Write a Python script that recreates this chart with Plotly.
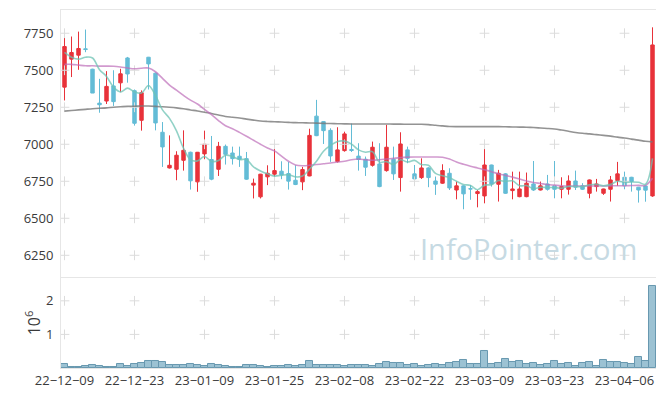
import plotly.graph_objects as go

dates = [
    "22-12-09", "22-12-12", "22-12-13", "22-12-14", "22-12-15", "22-12-16", "22-12-19", "22-12-20", "22-12-21", "22-12-22",
    "22-12-23", "22-12-26", "22-12-27", "22-12-28", "22-12-29", "23-01-02", "23-01-03", "23-01-04", "23-01-05", "23-01-06",
    "23-01-09", "23-01-10", "23-01-11", "23-01-12", "23-01-13", "23-01-16", "23-01-17", "23-01-18", "23-01-19", "23-01-20",
    "23-01-25", "23-01-26", "23-01-27", "23-01-30", "23-01-31", "23-02-01", "23-02-02", "23-02-03", "23-02-06", "23-02-07",
    "23-02-08", "23-02-09", "23-02-10", "23-02-13", "23-02-14", "23-02-15", "23-02-16", "23-02-17", "23-02-20", "23-02-21",
    "23-02-22", "23-02-23", "23-02-24", "23-02-27", "23-02-28", "23-03-02", "23-03-03", "23-03-06", "23-03-07", "23-03-08",
    "23-03-09", "23-03-10", "23-03-13", "23-03-14", "23-03-15", "23-03-16", "23-03-17", "23-03-20", "23-03-21", "23-03-22",
    "23-03-23", "23-03-24", "23-03-27", "23-03-28", "23-03-29", "23-03-30", "23-03-31", "23-04-03", "23-04-04", "23-04-05",
    "23-04-06", "23-04-07", "23-04-10", "23-04-11", "23-04-12",
]

open_ = [7386, 7575, 7602, 7645, 7507, 7278, 7292, 7394, 7415, 7583,
         7362, 7162, 7588, 7480, 7081, 6840, 6831, 6892, 6946, 6746,
         6935, 6897, 6831, 6986, 6941, 6919, 6903, 6724, 6645, 6780,
         6798, 6818, 6802, 6757, 6746, 6786, 7190, 7153, 7094, 6883,
         6957, 6965, 6920, 6899, 6858, 6867, 6822, 6899, 6775, 6962,
         6800, 6775, 6840, 6752, 6737, 6804, 6691, 6719, 6700, 6667,
         6651, 6860, 6730, 6800, 6687, 6646, 6646, 6732, 6691, 6732,
         6719, 6696, 6696, 6752, 6719, 6669, 6714, 6669, 6696, 6755,
         6777, 6777, 6710, 6718, 6651]
high = [7770, 7728, 7761, 7775, 7510, 7442, 7494, 7500, 7510, 7590,
        7370, 7364, 7590, 7485, 7150, 7060, 6953, 7094, 6950, 6948,
        7092, 7056, 7016, 6998, 6984, 6984, 6948, 6768, 6800, 6858,
        7004, 6885, 6881, 6858, 6847, 7105, 7300, 7155, 7108, 7115,
        7085, 7140, 7007, 6917, 7018, 7007, 7131, 6984, 7081, 6984,
        6860, 6905, 6845, 6782, 6865, 6838, 6748, 6722, 6725, 6691,
        6980, 6862, 6827, 6805, 6815, 6815, 6809, 6887, 6748, 6793,
        6887, 6777, 6790, 6822, 6737, 6762, 6766, 6700, 6786, 6881,
        6815, 6780, 6712, 6720, 7790]
low = [7296, 7454, 7503, 7622, 7346, 7213, 7272, 7259, 7352, 7416,
       7126, 7092, 7370, 7094, 6847, 6836, 6757, 6822, 6694, 6679,
       6899, 6757, 6786, 6863, 6863, 6847, 6760, 6634, 6634, 6724,
       6773, 6764, 6694, 6724, 6690, 6784, 7055, 7002, 6881, 6876,
       6950, 6948, 6822, 6786, 6849, 6710, 6815, 6759, 6680, 6872,
       6737, 6766, 6710, 6658, 6733, 6691, 6628, 6561, 6625, 6574,
       6601, 6714, 6613, 6665, 6628, 6642, 6642, 6685, 6688, 6687,
       6635, 6635, 6660, 6691, 6691, 6635, 6680, 6658, 6613, 6719,
       6696, 6680, 6606, 6612, 6645]
close = [7660, 7620, 7647, 7640, 7346, 7267, 7391, 7288, 7476, 7475,
         7142, 7348, 7543, 7144, 6982, 6858, 6926, 6959, 6753, 6946,
         7000, 6764, 6986, 6932, 6903, 6899, 6764, 6737, 6798, 6804,
         6822, 6793, 6751, 6728, 6829, 7060, 7058, 7092, 6921, 6962,
         7070, 6958, 6897, 6845, 6980, 6714, 6980, 6800, 7002, 6905,
         6766, 6840, 6775, 6730, 6822, 6705, 6719, 6665, 6698, 6680,
         6860, 6732, 6804, 6669, 6698, 6698, 6737, 6691, 6719, 6696,
         6696, 6714, 6752, 6710, 6696, 6759, 6732, 6698, 6759, 6800,
         6719, 6748, 6691, 6690, 7671]

ma5 = [7620, 7588, 7575, 7588, 7583, 7504, 7458, 7386, 7354, 7379,
       7354, 7346, 7397, 7330, 7232, 7175, 7091, 6974, 6896, 6888,
       6917, 6884, 6890, 6926, 6917, 6897, 6897, 6847, 6820, 6800,
       6785, 6791, 6794, 6780, 6785, 6832, 6885, 6953, 6992, 7019,
       7021, 7001, 6962, 6946, 6950, 6879, 6883, 6864, 6895, 6880,
       6891, 6863, 6858, 6803, 6787, 6774, 6750, 6728, 6722, 6693,
       6724, 6727, 6755, 6749, 6753, 6720, 6721, 6699, 6709, 6708,
       6708, 6703, 6715, 6714, 6714, 6726, 6730, 6719, 6729, 6750,
       6742, 6745, 6743, 6730, 6904]
ma20 = [7540, 7540, 7535, 7530, 7530, 7528, 7528, 7527, 7522, 7515,
        7510, 7514, 7515, 7490, 7445, 7400, 7365, 7330, 7298, 7272,
        7235, 7200, 7160, 7125, 7105, 7080, 7054, 7027, 7000, 6975,
        6955, 6920, 6885, 6860, 6855, 6858, 6863, 6868, 6873, 6880,
        6885, 6895, 6900, 6895, 6892, 6895, 6900, 6905, 6910, 6913,
        6914, 6914, 6914, 6914, 6912, 6900, 6880, 6865, 6852, 6840,
        6828, 6815, 6800, 6790, 6778, 6765, 6752, 6742, 6735, 6728,
        6724, 6720, 6718, 6718, 6718, 6718, 6718, 6718, 6719, 6720,
        6720, 6721, 6722, 6722, 6770]
ma60 = [7224, 7228, 7232, 7236, 7240, 7243, 7246, 7250, 7253, 7256,
        7257, 7258, 7258, 7256, 7253, 7250, 7246, 7240, 7232, 7225,
        7216, 7208, 7198, 7188, 7183, 7178, 7170, 7163, 7157, 7154,
        7152, 7150, 7148, 7146, 7145, 7144, 7143, 7141, 7140, 7139,
        7138, 7137, 7137, 7137, 7137, 7137, 7137, 7136, 7136, 7135,
        7135, 7135, 7133, 7128, 7124, 7120, 7119, 7119, 7119, 7119,
        7119, 7119, 7119, 7118, 7117, 7116, 7115, 7113, 7110, 7107,
        7103, 7096, 7088, 7080, 7074, 7070, 7065, 7060, 7055, 7048,
        7042, 7035, 7028, 7020, 7016]

volume = [120000, 30000, 30000, 60000, 90000, 60000, 30000, 30000, 120000, 60000,
          120000, 150000, 210000, 210000, 180000, 90000, 90000, 90000, 120000, 90000,
          60000, 120000, 90000, 60000, 30000, 30000, 90000, 90000, 60000, 30000,
          60000, 60000, 90000, 60000, 90000, 210000, 90000, 90000, 80000, 80000,
          50000, 80000, 80000, 80000, 50000, 110000, 170000, 140000, 140000, 80000,
          110000, 50000, 80000, 110000, 80000, 140000, 170000, 230000, 110000, 110000,
          500000, 110000, 140000, 260000, 170000, 200000, 110000, 140000, 80000, 110000,
          200000, 110000, 140000, 50000, 140000, 170000, 50000, 230000, 170000, 170000,
          140000, 110000, 320000, 200000, 2430000]

price_ticks = [6250, 6500, 6750, 7000, 7250, 7500, 7750]
vol_ticks = [1000000, 2000000]
vol_ticktext = ["1", "2"]
x_ticks = dates[::10]
x_ticktext = [d.replace("-", "\u2212") for d in x_ticks]

RED = "#e8323a"
BLUE = "#63bcd6"
FONT = dict(family="Open Sans, DejaVu Sans, sans-serif", size=13, color="#3a3a3a")

fig = go.Figure()

# volume bars
fig.add_trace(go.Bar(x=dates, y=volume, marker=dict(color="#9cc2d3", line=dict(color="#6898b0", width=1)),
                     xaxis="x2", yaxis="y2", showlegend=False))

fig.add_trace(go.Candlestick(
    x=dates, open=open_, high=high, low=low, close=close,
    increasing=dict(line=dict(color=RED, width=1), fillcolor=RED),
    decreasing=dict(line=dict(color=BLUE, width=1), fillcolor=BLUE),
    whiskerwidth=0, xaxis="x", yaxis="y", showlegend=False))

# grid crosses at tick intersections
fig.add_trace(go.Scatter(
    x=[d for d in x_ticks for _ in price_ticks],
    y=[p for _ in x_ticks for p in price_ticks],
    mode="markers", hoverinfo="skip",
    marker=dict(symbol="cross-thin", size=7, line=dict(color="#dcdcdc", width=1)),
    xaxis="x", yaxis="y", showlegend=False))
fig.add_trace(go.Scatter(
    x=[d for d in x_ticks for _ in vol_ticks],
    y=[v for _ in x_ticks for v in vol_ticks],
    mode="markers", hoverinfo="skip",
    marker=dict(symbol="cross-thin", size=7, line=dict(color="#dcdcdc", width=1)),
    xaxis="x2", yaxis="y2", showlegend=False))

fig.add_trace(go.Scatter(x=dates, y=ma60, mode="lines", line=dict(color="rgba(120,120,120,0.8)", width=1.6, shape="spline"),
                         xaxis="x", yaxis="y", showlegend=False))
fig.add_trace(go.Scatter(x=dates, y=ma20, mode="lines", line=dict(color="rgba(190,110,185,0.7)", width=1.6, shape="spline"),
                         xaxis="x", yaxis="y", showlegend=False))
fig.add_trace(go.Scatter(x=dates, y=ma5, mode="lines", line=dict(color="rgba(110,195,180,0.75)", width=1.6, shape="spline"),
                         xaxis="x", yaxis="y", showlegend=False))

fig.add_annotation(text="InfoPointer.com", xref="paper", yref="paper", x=0.972, y=0.275,
                   xanchor="right", yanchor="bottom", showarrow=False,
                   font=dict(family="Open Sans, sans-serif", size=29, color="#c6dae3"))

xcommon = dict(type="category", categoryorder="array", categoryarray=dates, range=[-0.5, len(dates) - 0.5],
               showgrid=False, zeroline=False, showline=True, linecolor="#e6e6e6", mirror=True, ticks="",
               automargin=False)

# the page body adds an 8px offset at top/left, so the figure is sized to fit the 665x396 window
fig.update_layout(
    width=657, height=388,
    margin=dict(l=53, r=9, t=2, b=28, autoexpand=False),
    paper_bgcolor="white", plot_bgcolor="white",
    font=FONT, bargap=0, showlegend=False,
    xaxis=dict(domain=[0, 1], rangeslider=dict(visible=False), showticklabels=False, anchor="y", **xcommon),
    yaxis=dict(domain=[0.2528, 1], range=[6100, 7907], tickvals=price_ticks, showgrid=False, zeroline=False,
               showline=True, linecolor="#e6e6e6", ticks="", ticklabelstandoff=4, anchor="x", automargin=False),
    xaxis2=dict(domain=[0, 1], tickvals=x_ticks, ticktext=x_ticktext, anchor="y2", **xcommon),
    yaxis2=dict(domain=[0, 0.2514], range=[0, 2680000], tickvals=vol_ticks, ticktext=vol_ticktext,
                showgrid=False, zeroline=False, showline=True, linecolor="#e6e6e6", ticks="",
                ticklabelstandoff=4,
                title=dict(text="10<sup>6</sup>", standoff=1), anchor="x2", automargin=False),
)

fig.write_html("out.html")
